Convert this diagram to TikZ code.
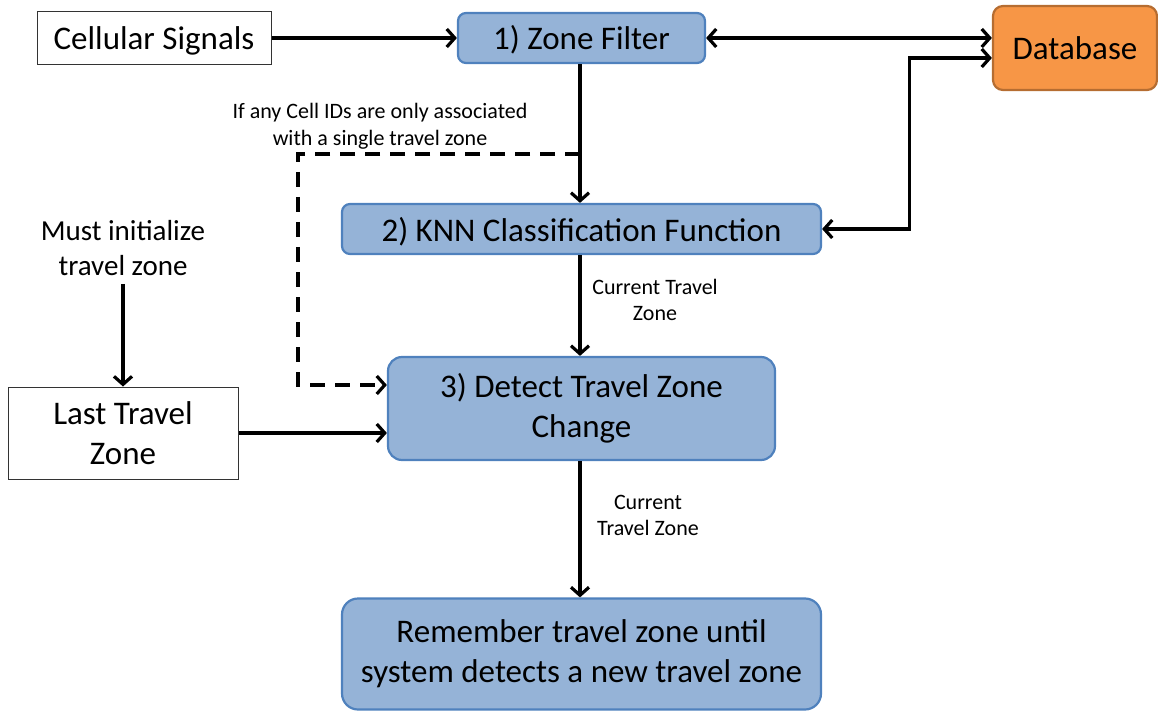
\documentclass[tikz,border=0pt]{standalone}
\usepackage{fontspec}
\setmainfont{Carlito}
\usetikzlibrary{arrows.meta}
\definecolor{boxblue}{HTML}{95B3D7}
\definecolor{edgeblue}{HTML}{4F81BD}
\definecolor{boxorange}{HTML}{F79646}
\definecolor{edgeorange}{HTML}{B66D31}
\tikzset{
  blue box/.style={draw=edgeblue, fill=boxblue, line width=2.2pt, rounded corners=8pt, align=center, inner sep=0pt},
  plain box/.style={draw=black!80, fill=white, line width=1pt, align=center, inner sep=0pt},
  orange box/.style={draw=edgeorange, fill=boxorange, line width=2.2pt, rounded corners=10pt, align=center, inner sep=0pt},
  barb/.tip={Straight Barb[length=8pt,width=18pt,line width=3.2pt]},
  flow/.style={line width=3.2pt, -barb},
  both flow/.style={line width=3.2pt, barb-barb},
  dash flow/.style={flow, dash pattern=on 15pt off 10pt},
  note/.style={align=center, inner sep=0pt, font=\fontsize{22}{27}\selectfont},
  big/.style={font=\fontsize{33}{40}\selectfont},
  lower/.style={text height=27pt, text depth=3pt},
}
\begin{document}
\begin{tikzpicture}[x=1pt,y=-1pt]
\useasboundingbox (0,0) rectangle (1158,711);

% boxes
\node[plain box, big, lower, minimum width=234pt, minimum height=53pt] (cell) at (154,38) {Cellular Signals};
\node[blue box, big, lower, minimum width=247pt, minimum height=50pt] (zf) at (581.5,38) {1) Zone Filter};
\node[orange box, big, minimum width=164pt, minimum height=84pt] (db) at (1075,48) {Database};
\node[blue box, big, lower, minimum width=479pt, minimum height=50pt] (knn) at (581.5,229) {2) KNN Classification Function};
\node[blue box, big, minimum width=387pt, minimum height=103pt, rounded corners=14pt] (det) at (581.5,408.5) {3) Detect Travel Zone\\Change};
\node[plain box, big, minimum width=230pt, minimum height=92pt] (last) at (123,433) {Last Travel\\Zone};
\node[blue box, big, minimum width=479pt, minimum height=111pt, rounded corners=16pt] (rem) at (581.5,654) {Remember travel zone until\\system detects a new travel zone};

% free texts
\node[note] (cond) at (380,126) {If any Cell IDs are only associated\\with a single travel zone};
\node[align=center, inner sep=0pt, font=\fontsize{29}{35}\selectfont] (init) at (123,248) {Must initialize\\travel zone};
\node[note, font=\fontsize{22}{26}\selectfont] (ctz1) at (655,300) {Current Travel\\Zone};
\node[note, font=\fontsize{22}{26}\selectfont] (ctz2) at (648,515) {Current\\Travel Zone};

% junction and bend points
\coordinate (split) at ([xshift=-1.5pt]zf.south |- 0,154);
\coordinate (bend) at (298,0);
\coordinate (dashin) at ([yshift=23.5pt]det.west);
\coordinate (dbin) at ([yshift=-10pt]db.west);

% connectors
\draw[flow] (cell.east) -- (zf.west);
\draw[both flow] (zf.east) -- (db.west |- zf.east);
\draw[both flow] (knn.east) -- ++(87,0) |- (dbin);
\draw[flow] ([xshift=-1.5pt]zf.south) -- ([xshift=-1.5pt]knn.north);
\draw[dash flow] (split) -| (bend |- dashin) -- (dashin);
\draw[flow] ([xshift=-1.5pt]knn.south) -- ([xshift=-1.5pt]det.north);
\draw[flow] ([yshift=-8pt]init.south) -- (last.north);
\draw[flow] (last.east) -- (det.west |- last.east);
\draw[flow] ([xshift=-1.5pt]det.south) -- ([xshift=-1.5pt]rem.north);
\end{tikzpicture}
\end{document}
